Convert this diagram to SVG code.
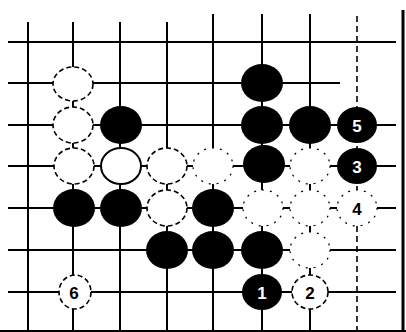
<svg xmlns="http://www.w3.org/2000/svg" width="406" height="332" viewBox="0 0 406 332">
<style>
.g line{stroke:#000;stroke-width:2}
.g .f{stroke-dasharray:6 4;stroke-width:1.6}
.b{fill:#000}
.w{fill:#fff;stroke:#000;stroke-width:1.6;stroke-dasharray:5 3}
.wf{fill:#fff;stroke:#000;stroke-width:1.2;stroke-dasharray:2 6}
.lb{font-family:"Liberation Sans",Arial,sans-serif;font-weight:bold;font-size:17px;text-anchor:middle;dominant-baseline:central}
</style>
<rect width="406" height="332" fill="#fff"/>
<g id="connectors" class="g">
<line x1="8" y1="42" x2="396" y2="42"/>
<line x1="8" y1="83" x2="340" y2="83"/>
<line x1="8" y1="125" x2="396" y2="125"/>
<line x1="8" y1="166" x2="396" y2="166"/>
<line x1="8" y1="208" x2="396" y2="208"/>
<line x1="8" y1="250" x2="396" y2="250"/>
<line x1="8" y1="292" x2="396" y2="292"/>
<line x1="0" y1="331" x2="406" y2="331"/>
<line x1="28" y1="22" x2="28" y2="332"/>
<line x1="73" y1="22" x2="73" y2="332"/>
<line x1="120" y1="22" x2="120" y2="332"/>
<line x1="167" y1="22" x2="167" y2="332"/>
<line x1="213" y1="14" x2="213" y2="332"/>
<line x1="262" y1="14" x2="262" y2="332"/>
<line x1="310" y1="14" x2="310" y2="332"/>
<line class="f" x1="357" y1="16" x2="357" y2="332"/>
<line x1="403" y1="10" x2="403" y2="332" style="stroke-width:3"/>
</g>
<g id="w-73-83"><ellipse class="w" cx="73" cy="84" rx="20" ry="17"/></g>
<g id="w-73-125"><ellipse class="w" cx="73" cy="125" rx="20" ry="18"/></g>
<g id="b-120-125"><ellipse class="b" cx="121" cy="125" rx="21" ry="19"/></g>
<g id="b-262-83"><ellipse class="b" cx="262" cy="83" rx="21" ry="19"/></g>
<g id="b-262-125"><ellipse class="b" cx="262" cy="125" rx="21" ry="19"/></g>
<g id="b-310-125"><ellipse class="b" cx="310" cy="125" rx="21" ry="19"/></g>
<g id="m5"><ellipse class="b" cx="357" cy="125" rx="20" ry="18"/><text class="lb" x="357" y="126" fill="#fff">5</text></g>
<g id="w-73-166"><ellipse class="w" cx="74" cy="166" rx="20" ry="18"/></g>
<g id="w-120-166"><ellipse class="w" cx="121" cy="166" rx="20" ry="18" style="stroke-dasharray:none;stroke-width:2"/></g>
<g id="w-167-166"><ellipse class="w" cx="167" cy="166" rx="20" ry="18"/></g>
<g id="w-213-166"><ellipse class="wf" cx="213" cy="166" rx="20" ry="18"/></g>
<g id="b-262-166"><ellipse class="b" cx="264" cy="164" rx="21" ry="19"/></g>
<g id="w-310-166"><ellipse class="wf" cx="310" cy="166" rx="20" ry="18"/></g>
<g id="m3"><ellipse class="b" cx="357" cy="166" rx="20" ry="18"/><text class="lb" x="357" y="167" fill="#fff">3</text></g>
<g id="b-73-208"><ellipse class="b" cx="74" cy="208" rx="21" ry="19"/></g>
<g id="b-120-208"><ellipse class="b" cx="121" cy="208" rx="21" ry="19"/></g>
<g id="w-167-208"><ellipse class="w" cx="167" cy="208" rx="20" ry="18"/></g>
<g id="b-213-208"><ellipse class="b" cx="213" cy="208" rx="21" ry="19"/></g>
<g id="w-262-208"><ellipse class="wf" cx="263" cy="208" rx="20" ry="18"/></g>
<g id="w-310-208"><ellipse class="wf" cx="310" cy="208" rx="20" ry="18"/></g>
<g id="m4"><ellipse class="wf" cx="357" cy="208" rx="20" ry="18"/><text class="lb" x="357" y="209" fill="#000">4</text></g>
<g id="b-167-250"><ellipse class="b" cx="167" cy="250" rx="21" ry="19"/></g>
<g id="b-213-250"><ellipse class="b" cx="213" cy="250" rx="21" ry="19"/></g>
<g id="b-262-250"><ellipse class="b" cx="262" cy="250" rx="21" ry="19"/></g>
<g id="w-310-250"><ellipse class="wf" cx="310" cy="250" rx="20" ry="18"/></g>
<g id="m6"><ellipse class="w" cx="75" cy="292" rx="16" ry="17"/><text class="lb" x="74" y="293" fill="#000">6</text></g>
<g id="m1"><ellipse class="b" cx="262" cy="292" rx="20" ry="18"/><text class="lb" x="262" y="293" fill="#fff">1</text></g>
<g id="m2"><ellipse class="w" cx="310" cy="292" rx="18" ry="17"/><text class="lb" x="310" y="293" fill="#000">2</text></g>
</svg>
